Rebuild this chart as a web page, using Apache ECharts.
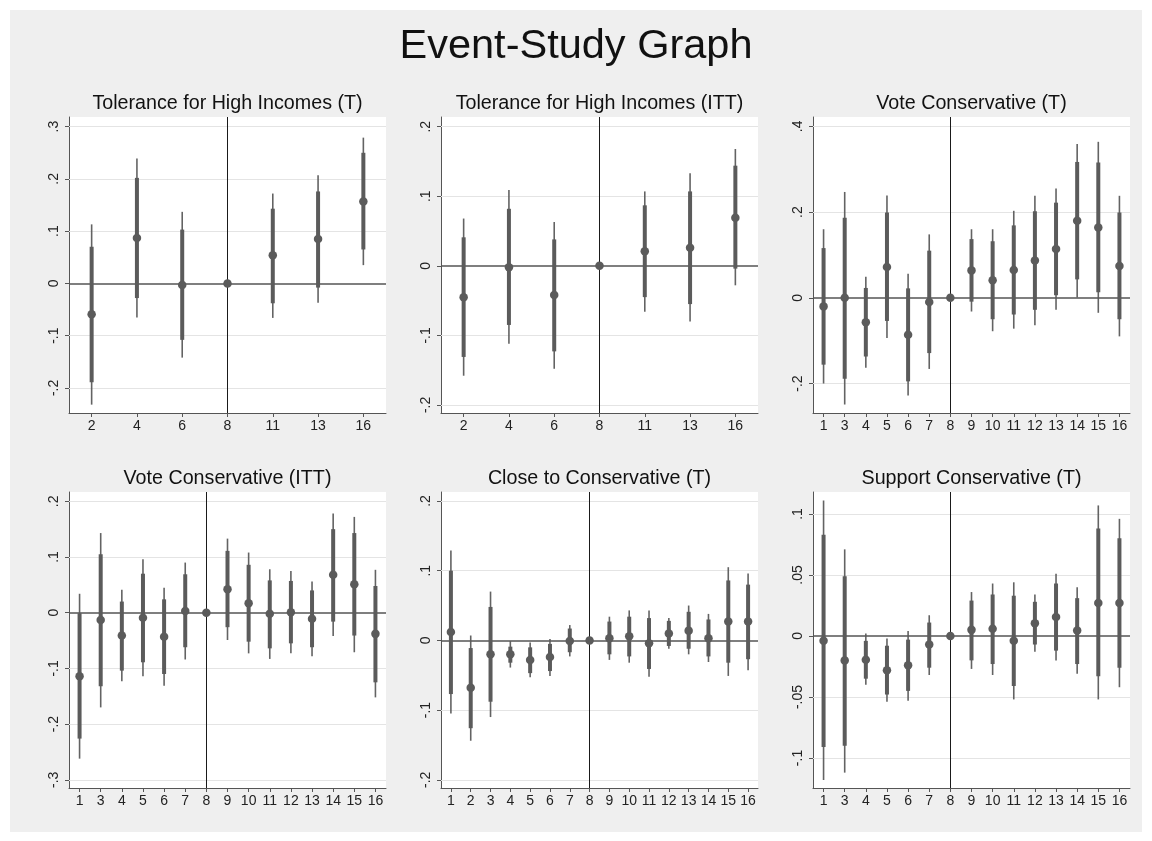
<!DOCTYPE html>
<html>
<head>
<meta charset="utf-8">
<script src="https://cdn.jsdelivr.net/npm/echarts@6.0.0/dist/echarts.min.js"></script>
<style>
html,body{margin:0;padding:0;background:#ffffff;}
#bg{position:absolute;left:10px;top:10px;width:1132px;height:822px;background:#efefef;}
#c{position:absolute;left:0;top:0;width:1152px;height:841px;}
</style>
</head>
<body>
<div id="bg"></div>
<div id="c"></div>
<script>
// ---------- DATA ----------
const mainTitle = 'Event-Study Graph';

// Panel 1: Tolerance for High Incomes (T)
const p1Title = 'Tolerance for High Incomes (T)';
const p1Cats = ['2','4','6','8','11','13','16'];
const p1Coef = [-0.059, 0.087, -0.003, 0, 0.054, 0.085, 0.157];
const p1Hi90 = [0.070, 0.202, 0.103, null, 0.143, 0.176, 0.250];
const p1Lo90 = [-0.189, -0.028, -0.108, null, -0.038, -0.008, 0.065];
const p1Hi95 = [0.113, 0.239, 0.137, null, 0.172, 0.207, 0.279];
const p1Lo95 = [-0.232, -0.065, -0.142, null, -0.066, -0.037, 0.035];
const p1YTicks = [-0.2, -0.1, 0, 0.1, 0.2, 0.3];

// Panel 2: Tolerance for High Incomes (ITT)
const p2Title = 'Tolerance for High Incomes (ITT)';
const p2Cats = ['2','4','6','8','11','13','16'];
const p2Coef = [-0.045, -0.002, -0.042, 0, 0.021, 0.026, 0.069];
const p2Hi90 = [0.041, 0.082, 0.038, null, 0.087, 0.107, 0.144];
const p2Lo90 = [-0.131, -0.085, -0.123, null, -0.045, -0.055, -0.004];
const p2Hi95 = [0.068, 0.109, 0.063, null, 0.107, 0.133, 0.168];
const p2Lo95 = [-0.158, -0.112, -0.148, null, -0.066, -0.080, -0.028];
const p2YTicks = [-0.2, -0.1, 0, 0.1, 0.2];

// Panel 3: Vote Conservative (T)
const p3Title = 'Vote Conservative (T)';
const p3Cats = ['1','3','4','5','6','7','8','9','10','11','12','13','14','15','16'];
const p3Coef = [-0.020, 0.000, -0.057, 0.072, -0.086, -0.010, 0, 0.064, 0.041, 0.065, 0.087, 0.114, 0.180, 0.164, 0.074];
const p3Hi90 = [0.116, 0.187, 0.023, 0.199, 0.022, 0.110, null, 0.137, 0.132, 0.169, 0.202, 0.222, 0.317, 0.316, 0.199];
const p3Lo90 = [-0.156, -0.189, -0.137, -0.054, -0.195, -0.129, null, -0.009, -0.050, -0.039, -0.028, 0.006, 0.043, 0.013, -0.050];
const p3Hi95 = [0.160, 0.247, 0.049, 0.239, 0.056, 0.148, null, 0.160, 0.160, 0.203, 0.238, 0.255, 0.359, 0.364, 0.238];
const p3Lo95 = [-0.200, -0.249, -0.163, -0.094, -0.228, -0.166, null, -0.032, -0.078, -0.072, -0.064, -0.028, 0.001, -0.035, -0.090];
const p3YTicks = [-0.2, 0, 0.2, 0.4];

// Panel 4: Vote Conservative (ITT)
const p4Title = 'Vote Conservative (ITT)';
const p4Cats = ['1','3','4','5','6','7','8','9','10','11','12','13','14','15','16'];
const p4Coef = [-0.114, -0.013, -0.041, -0.009, -0.043, 0.003, 0, 0.042, 0.017, -0.002, 0.001, -0.011, 0.068, 0.051, -0.038];
const p4Hi90 = [-0.001, 0.105, 0.020, 0.070, 0.024, 0.069, null, 0.111, 0.086, 0.058, 0.057, 0.040, 0.150, 0.143, 0.048];
const p4Lo90 = [-0.226, -0.132, -0.104, -0.089, -0.110, -0.062, null, -0.026, -0.052, -0.064, -0.055, -0.062, -0.016, -0.041, -0.125];
const p4Hi95 = [0.034, 0.143, 0.041, 0.096, 0.045, 0.090, null, 0.133, 0.108, 0.078, 0.075, 0.056, 0.178, 0.172, 0.077];
const p4Lo95 = [-0.262, -0.170, -0.123, -0.114, -0.131, -0.084, null, -0.049, -0.073, -0.083, -0.073, -0.078, -0.042, -0.071, -0.152];
const p4YTicks = [-0.3, -0.2, -0.1, 0, 0.1, 0.2];

// Panel 5: Close to Conservative (T)
const p5Title = 'Close to Conservative (T)';
const p5Cats = ['1','2','3','4','5','6','7','8','9','10','11','12','13','14','15','16'];
const p5Coef = [0.012, -0.068, -0.020, -0.020, -0.028, -0.024, -0.001, 0, 0.003, 0.006, -0.004, 0.010, 0.014, 0.003, 0.027, 0.027];
const p5Hi90 = [0.100, -0.011, 0.048, -0.009, -0.010, -0.005, 0.017, null, 0.027, 0.034, 0.032, 0.028, 0.041, 0.030, 0.086, 0.080];
const p5Lo90 = [-0.077, -0.126, -0.088, -0.032, -0.047, -0.044, -0.017, null, -0.020, -0.023, -0.041, -0.008, -0.012, -0.023, -0.032, -0.027];
const p5Hi95 = [0.129, 0.007, 0.070, -0.001, -0.003, 0.002, 0.022, null, 0.034, 0.043, 0.043, 0.032, 0.050, 0.038, 0.105, 0.096];
const p5Lo95 = [-0.105, -0.144, -0.110, -0.039, -0.053, -0.051, -0.023, null, -0.028, -0.032, -0.052, -0.012, -0.020, -0.031, -0.051, -0.043];
const p5YTicks = [-0.2, -0.1, 0, 0.1, 0.2];

// Panel 6: Support Conservative (T)
const p6Title = 'Support Conservative (T)';
const p6Cats = ['1','3','4','5','6','7','8','9','10','11','12','13','14','15','16'];
const p6Coef = [-0.004, -0.020, -0.0195, -0.028, -0.024, -0.007, 0, 0.005, 0.006, -0.004, 0.0105, 0.0155, 0.0045, 0.027, 0.027];
const p6Hi90 = [0.083, 0.049, -0.004, -0.008, -0.003, 0.011, null, 0.029, 0.034, 0.033, 0.028, 0.043, 0.031, 0.088, 0.080];
const p6Lo90 = [-0.091, -0.090, -0.035, -0.048, -0.045, -0.026, null, -0.020, -0.023, -0.041, -0.007, -0.012, -0.023, -0.033, -0.026];
const p6Hi95 = [0.111, 0.071, 0.002, -0.002, 0.004, 0.017, null, 0.036, 0.043, 0.044, 0.034, 0.051, 0.040, 0.107, 0.096];
const p6Lo95 = [-0.118, -0.112, -0.040, -0.054, -0.053, -0.032, null, -0.027, -0.032, -0.052, -0.013, -0.020, -0.031, -0.052, -0.042];
const p6YTicks = [-0.1, -0.05, 0, 0.05, 0.1];

const refCat = '8';

// ---------- LAYOUT / STYLE ----------
const FONT = "'Liberation Sans', Arial, Helvetica, sans-serif";
const MARK = '#5b5b5b';
const AXIS = '#555555';
const GRIDW = 317, GRIDH = 296;

const panels = [
  {title:p1Title, cats:p1Cats, coef:p1Coef, hi90:p1Hi90, lo90:p1Lo90, hi95:p1Hi95, lo95:p1Lo95, ticks:p1YTicks, min:-0.248, max:0.3185, left:69,  top:117},
  {title:p2Title, cats:p2Cats, coef:p2Coef, hi90:p2Hi90, lo90:p2Lo90, hi95:p2Hi95, lo95:p2Lo95, ticks:p2YTicks, min:-0.2116, max:0.214, left:441, top:117},
  {title:p3Title, cats:p3Cats, coef:p3Coef, hi90:p3Hi90, lo90:p3Lo90, hi95:p3Hi95, lo95:p3Lo95, ticks:p3YTicks, min:-0.2688, max:0.4219, left:813, top:117},
  {title:p4Title, cats:p4Cats, coef:p4Coef, hi90:p4Hi90, lo90:p4Lo90, hi95:p4Hi95, lo95:p4Lo95, ticks:p4YTicks, min:-0.3147, max:0.2167, left:69,  top:492},
  {title:p5Title, cats:p5Cats, coef:p5Coef, hi90:p5Hi90, lo90:p5Lo90, hi95:p5Hi95, lo95:p5Lo95, ticks:p5YTicks, min:-0.2118, max:0.2129, left:441, top:492},
  {title:p6Title, cats:p6Cats, coef:p6Coef, hi90:p6Hi90, lo90:p6Lo90, hi95:p6Hi95, lo95:p6Lo95, ticks:p6YTicks, min:-0.1246, max:0.118,  left:813, top:492}
];

function fmt(v) {
  const r = Math.round(v * 1000) / 1000;
  if (r === 0) return '0';
  return String(r).replace('0.', '.');
}

function renderCI(params, api) {
  const x = api.value(0);
  const a95 = api.coord([x, api.value(3)]);
  const b95 = api.coord([x, api.value(4)]);
  const a90 = api.coord([x, api.value(1)]);
  const b90 = api.coord([x, api.value(2)]);
  return {
    type: 'group',
    children: [
      {type:'line', shape:{x1:a95[0], y1:a95[1], x2:b95[0], y2:b95[1]}, style:{stroke:MARK, lineWidth:1.6, opacity:0.95}},
      {type:'line', shape:{x1:a90[0], y1:a90[1], x2:b90[0], y2:b90[1]}, style:{stroke:MARK, lineWidth:4}}
    ]
  };
}

const grids = [], xAxes = [], yAxes = [], series = [], graphics = [];

graphics.push({type:'text', x:576, y:47, style:{text:mainTitle, fontSize:41.5, fontFamily:FONT, fill:'#111', align:'center', verticalAlign:'middle'}});

panels.forEach((p, i) => {
  grids.push({left:p.left, top:p.top, width:GRIDW, height:GRIDH, show:true, backgroundColor:'#ffffff', borderWidth:0});
  xAxes.push({
    gridIndex:i, type:'category', data:p.cats, boundaryGap:true,
    axisLine:{show:true, onZero:false, lineStyle:{color:AXIS, width:1}},
    axisTick:{show:true, alignWithLabel:true, length:4, lineStyle:{color:AXIS}},
    axisLabel:{interval:0, margin:6, fontSize:14, color:'#222', fontFamily:FONT},
    splitLine:{show:false}
  });
  yAxes.push({
    gridIndex:i, type:'value', min:p.min, max:p.max,
    axisLine:{show:true, onZero:false, lineStyle:{color:AXIS, width:1}},
    axisTick:{show:true, length:4, lineStyle:{color:AXIS}, customValues:p.ticks},
    axisLabel:{rotate:90, margin:8, fontSize:14, color:'#222', fontFamily:FONT, customValues:p.ticks, formatter:fmt},
    splitLine:{show:false}
  });
  graphics.push({type:'text', x:p.left + GRIDW/2, y:p.top - 13.5, style:{text:p.title, fontSize:19.7, fontFamily:FONT, fill:'#111', align:'center', verticalAlign:'middle'}});

  const lines = p.ticks.filter(t => t !== 0).map(t => ({yAxis:t, lineStyle:{color:'#e4e4e4', width:1, type:'solid'}}));
  lines.push({xAxis:refCat, lineStyle:{color:'#1a1a1a', width:1, type:'solid'}});
  lines.push({yAxis:0, lineStyle:{color:AXIS, width:1.5, type:'solid'}});

  series.push({
    type:'line', xAxisIndex:i, yAxisIndex:i, data:[], silent:true,
    markLine:{silent:true, z:1, symbol:['none','none'], label:{show:false}, animation:false, data:lines}
  });

  const ciData = [];
  p.cats.forEach((c, k) => {
    if (p.lo90[k] !== null) ciData.push([k, p.lo90[k], p.hi90[k], p.lo95[k], p.hi95[k]]);
  });
  series.push({
    type:'custom', xAxisIndex:i, yAxisIndex:i, z:2, silent:true,
    renderItem:renderCI, data:ciData, encode:{x:0, y:[1,2,3,4]}
  });
  series.push({
    type:'scatter', xAxisIndex:i, yAxisIndex:i, z:3, silent:true,
    symbol:'circle', symbolSize:8.5, itemStyle:{color:MARK, opacity:1},
    data:p.coef.map((v, k) => [k, v])
  });
});

const chart = echarts.init(document.getElementById('c'), null, {renderer:'canvas'});
chart.setOption({
  animation:false,
  backgroundColor:'transparent',
  grid:grids, xAxis:xAxes, yAxis:yAxes, series:series, graphic:graphics
});
</script>
</body>
</html>
